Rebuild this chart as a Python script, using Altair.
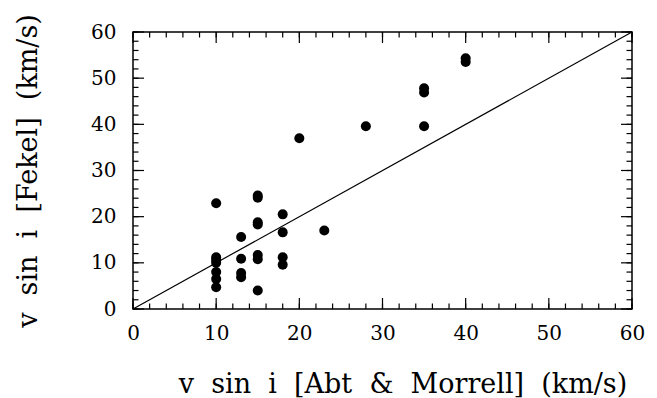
import altair as alt
import pandas as pd

# Data
abt_x = [10, 10, 10, 10, 10, 10, 10,
         13, 13, 13, 13,
         15, 15, 15, 15, 15, 15, 15,
         18, 18, 18, 18,
         20, 23, 28, 35, 35, 35, 40, 40]
fekel_y = [22.9, 11.2, 10.6, 10.0, 8.0, 6.5, 4.7,
           15.6, 10.9, 7.8, 6.9,
           24.6, 24.1, 18.8, 18.3, 11.7, 10.8, 4.0,
           20.5, 16.6, 11.2, 9.6,
           37.0, 17.0, 39.6, 47.8, 46.9, 39.6, 54.3, 53.5]
line_x = [0, 60]
line_y = [0, 60]
major_ticks = [0, 10, 20, 30, 40, 50, 60]
minor_ticks = list(range(0, 61, 2))

W, H = 499, 277
MAJ, MIN = 11, 5.5
FONT = "DejaVu Serif"
SP = "\u00a0\u00a0"  # wide word spacing as in the reference
x_title = SP.join(["v", "sin", "i", "[Abt", "&", "Morrell]", "(km/s)"])
y_title = SP.join(["v", "sin", "i", "[Fekel]", "(km/s)"])

xs = alt.Scale(domain=[0, 60], nice=False, zero=False)
ys = alt.Scale(domain=[0, 60], nice=False, zero=False)
xaxis = alt.Axis(values=major_ticks, ticks=False, domain=False, grid=False,
                 labelFont=FONT, labelFontSize=20, labelColor="black",
                 labelPadding=14, labelFlush=False, title=x_title,
                 titleFont=FONT, titleFontSize=27, titleFontWeight="normal",
                 titleColor="black", titleBaseline="alphabetic",
                 titleX=W / 2 + 20, titleY=83, format="d")
yaxis = alt.Axis(values=major_ticks, ticks=False, domain=False, grid=False,
                 labelFont=FONT, labelFontSize=20, labelColor="black",
                 labelPadding=17, labelFlush=False, title=y_title,
                 titleFont=FONT, titleFontSize=27, titleFontWeight="normal",
                 titleColor="black", titleBaseline="alphabetic",
                 titleX=-97, titleY=H / 2, format="d")

X = alt.X("x:Q", scale=xs, axis=xaxis)
Y = alt.Y("y:Q", scale=ys, axis=yaxis)

pts = pd.DataFrame({"x": abt_x, "y": fekel_y})
ln = pd.DataFrame({"x": line_x, "y": line_y})
maj_x = pd.DataFrame({"x": major_ticks})
min_x = pd.DataFrame({"x": minor_ticks})
maj_y = pd.DataFrame({"y": major_ticks})
min_y = pd.DataFrame({"y": minor_ticks})

layers = []
layers.append(alt.Chart(ln).mark_line(color="black", strokeWidth=1.2).encode(x=X, y=Y))
layers.append(alt.Chart(pts).mark_circle(color="black", opacity=1, size=100).encode(x=X, y=Y))

for df, L in [(maj_x, MAJ), (min_x, MIN)]:
    layers.append(alt.Chart(df).mark_rule(color="black", strokeWidth=1.2).encode(
        x=X, y=alt.value(H), y2=alt.value(H - L)))
    layers.append(alt.Chart(df).mark_rule(color="black", strokeWidth=1.2).encode(
        x=X, y=alt.value(0), y2=alt.value(L)))
for df, L in [(maj_y, MAJ), (min_y, MIN)]:
    layers.append(alt.Chart(df).mark_rule(color="black", strokeWidth=1.2).encode(
        y=Y, x=alt.value(0), x2=alt.value(L)))
    layers.append(alt.Chart(df).mark_rule(color="black", strokeWidth=1.2).encode(
        y=Y, x=alt.value(W), x2=alt.value(W - L)))

chart = alt.layer(*layers).properties(
    width=W, height=H,
    autosize=alt.AutoSizeParams(type="none"),
    padding={"left": 125, "top": 24, "right": 17, "bottom": 90},
    background="white",
).configure_view(stroke="black", strokeWidth=1.5)

chart.save("out.html", embed_options={"renderer": "svg", "actions": False})
